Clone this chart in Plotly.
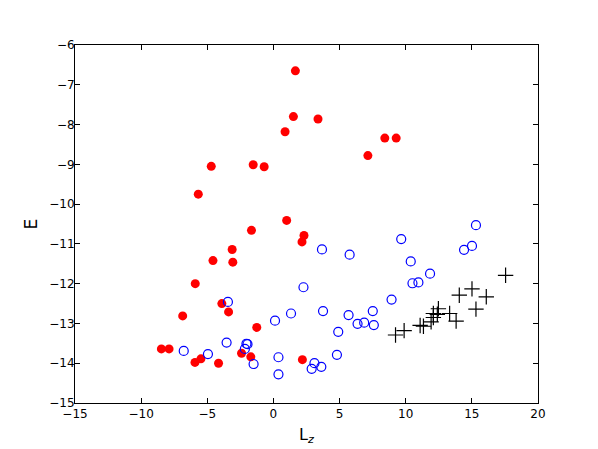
import plotly.graph_objects as go

# red filled circles
red_lz = [1.66, 1.51, 0.88, -4.70, -1.53, -0.70, -5.68, 1.00, 3.37, 8.42, 9.28, 7.14,
          -1.66, 2.31, 2.16, -3.12, -4.57, -3.07, -5.91, -3.90, -3.39, -6.86, -1.26,
          -8.47, -7.89, -2.41, -1.71, -5.48, -5.93, -4.15, 2.19]
red_e = [-6.65, -7.80, -8.18, -9.05, -9.01, -9.06, -9.75, -10.41, -7.86, -8.34, -8.34, -8.78,
         -10.66, -10.79, -10.95, -11.14, -11.42, -11.46, -12.00, -12.50, -12.71, -12.81, -13.10,
         -13.64, -13.64, -13.75, -13.84, -13.89, -13.98, -14.00, -13.91]

# blue open circles
blue_lz = [-3.44, 2.27, 1.33, 0.12, -3.54, -6.78, -4.95, -2.04, -1.96, -2.16, -1.50, 0.38,
           0.38, 3.67, 5.76, 3.75, 5.68, 7.51, 6.36, 6.86, 7.59, 4.90, 8.93, 9.66, 10.38,
           10.51, 10.96, 11.84, 15.31, 15.01, 14.41, 4.80, 3.10, 2.89, 3.62]
blue_e = [-12.46, -12.09, -12.75, -12.93, -13.48, -13.69, -13.77, -13.51, -13.52, -13.64, -14.02, -13.85,
          -14.28, -11.14, -11.27, -12.69, -12.79, -12.69, -13.01, -12.98, -13.04, -13.21, -12.40, -10.88, -11.44,
          -11.99, -11.97, -11.75, -10.53, -11.05, -11.15, -13.79, -14.00, -14.14, -14.09]

# black crosses
black_lz = [9.23, 9.88, 11.09, 11.34, 11.92, 12.09, 12.09, 12.39, 12.47, 13.32, 13.81,
            14.05, 15.01, 15.31, 16.09, 17.55]
black_e = [-13.29, -13.18, -13.05, -13.07, -12.96, -12.85, -12.75, -12.77, -12.63, -12.75, -12.94,
           -12.29, -12.13, -12.64, -12.33, -11.79]

x_ticks = [-15, -10, -5, 0, 5, 10, 15, 20]
y_ticks = [-15, -14, -13, -12, -11, -10, -9, -8, -7, -6]

fig = go.Figure()

fig.add_trace(go.Scatter(
    x=red_lz, y=red_e, mode='markers',
    marker=dict(symbol='circle', size=9, color='#ff0000', line=dict(width=0))
))
fig.add_trace(go.Scatter(
    x=blue_lz, y=blue_e, mode='markers',
    marker=dict(symbol='circle-open', size=9, color='#0000ff', line=dict(width=1.2))
))
fig.add_trace(go.Scatter(
    x=black_lz, y=black_e, mode='markers',
    marker=dict(symbol='cross-thin-open', size=11, color='black', line=dict(width=1.2, color='black'))
))

axis_style = dict(
    showline=True, linecolor='black', linewidth=1, mirror='ticks',
    ticks='inside', ticklen=5, tickcolor='black', tickwidth=1,
    showgrid=False, zeroline=False,
    tickfont=dict(family='DejaVu Sans', size=12, color='black'),
)

fig.update_xaxes(range=[-15, 20], tickvals=x_ticks, **axis_style,
                 title=dict(text='L<sub><i>z</i></sub>', standoff=8,
                            font=dict(family='DejaVu Sans', size=16, color='black')))
fig.update_yaxes(range=[-15, -6], tickvals=y_ticks, **axis_style,
                 ticklabelstandoff=-3,
                 title=dict(text='E', standoff=7,
                            font=dict(family='DejaVu Sans', size=17, color='black')))

# page body adds ~8px offset, so margins are trimmed to line the axes up
fig.update_layout(
    width=598, height=449,
    margin=dict(l=67, r=68, t=37, b=54),
    paper_bgcolor='white', plot_bgcolor='white',
    showlegend=False,
)

fig.write_html("out.html")
